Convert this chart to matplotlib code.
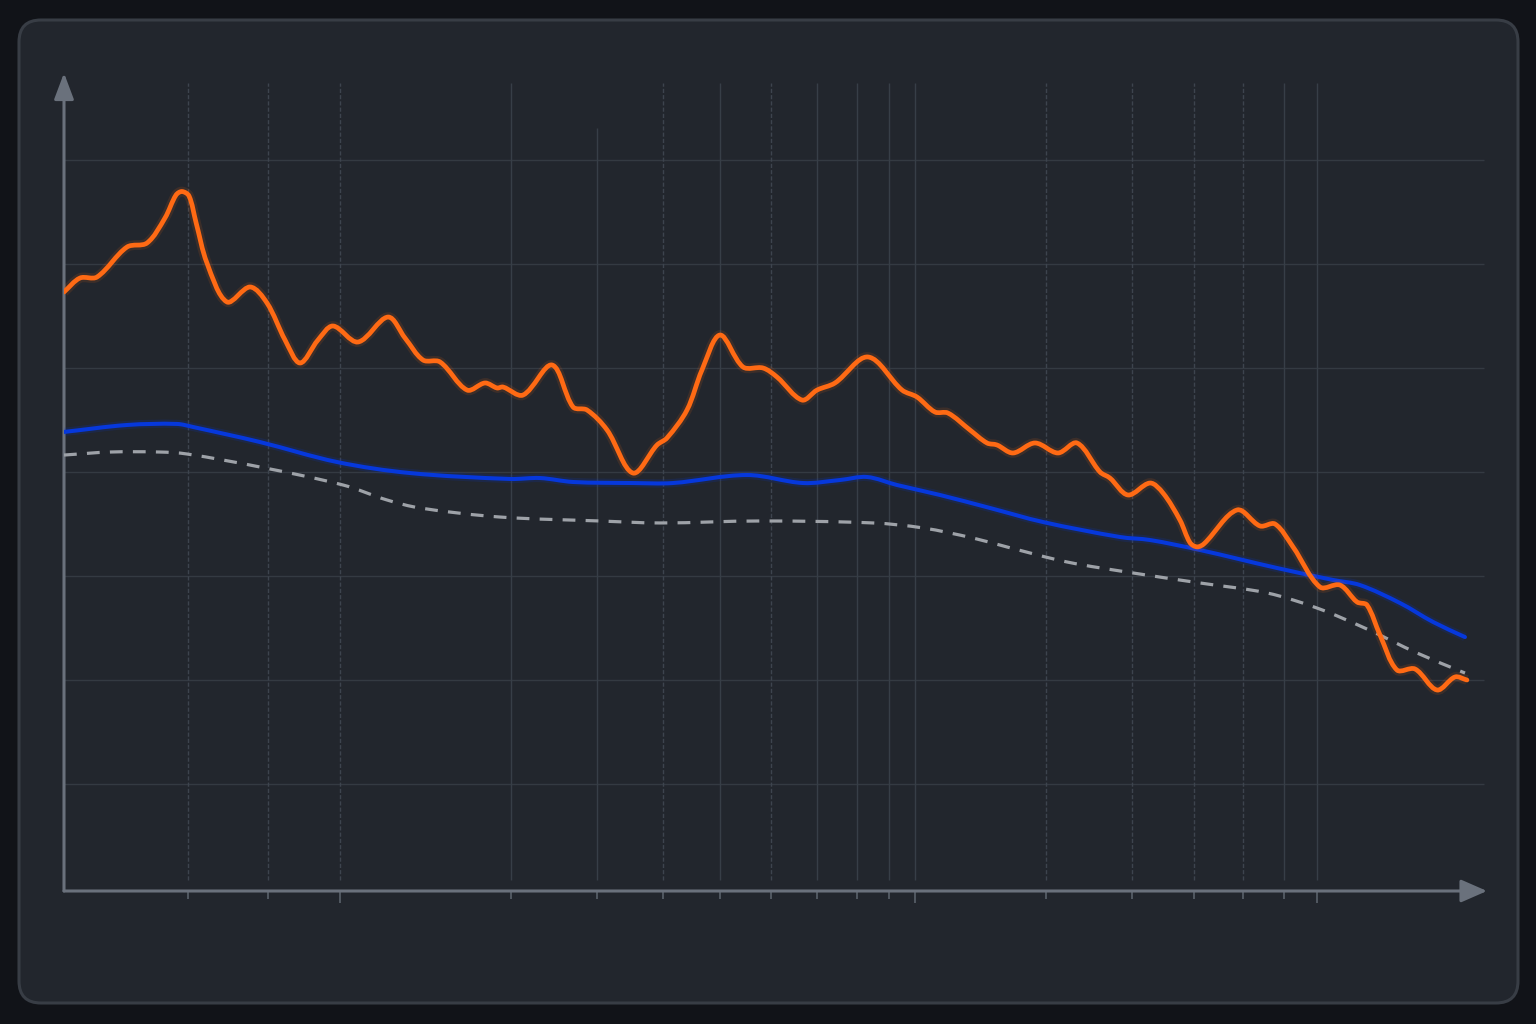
import numpy as np
import matplotlib
matplotlib.use("Agg")
import matplotlib.pyplot as plt
from matplotlib.patches import FancyBboxPatch, PathPatch
from matplotlib.path import Path

# ---------------- data ----------------
orange_x = [0.0, 1.14, 2.36, 4.5, 5.93, 7.21, 8.0, 8.43, 8.93, 9.43, 10.21, 11.64, 13.29, 14.5, 15.79,
            16.86, 18.14, 19.21, 21.0, 23.14, 24.36, 25.64, 26.86, 28.79, 30.07, 30.93, 31.36, 32.79,
            34.86, 36.36, 37.36, 38.79, 40.64, 42.36, 43.07, 44.5, 45.57, 46.86, 48.5, 49.93, 50.93,
            52.71, 53.79, 55.07, 57.43, 59.86, 60.93, 62.21, 63.14, 64.71, 65.93, 66.64, 67.79, 69.36,
            71.0, 72.36, 74.0, 74.71, 76.0, 77.57, 78.5, 79.71, 80.43, 80.93, 81.43, 83.79, 85.43,
            86.5, 87.79, 89.71, 91.14, 92.36, 93.07, 94.0, 95.21, 96.5, 98.07, 99.36, 100.21]
orange_y = [57.31, 58.65, 58.75, 61.63, 62.02, 64.42, 66.63, 66.97, 66.54, 64.0, 60.10, 56.35, 57.79,
            56.25, 52.69, 50.48, 52.69, 54.04, 52.5, 54.9, 52.88, 50.77, 50.58, 47.88, 48.56, 48.08,
            48.17, 47.40, 50.29, 46.25, 45.96, 44.04, 39.90, 42.60, 43.27, 45.96, 49.81, 53.17, 50.10,
            50.0, 49.13, 46.92, 47.88, 48.56, 51.06, 47.88, 47.21, 45.77, 45.67, 44.04, 42.79, 42.60,
            41.83, 42.79, 41.83, 42.79, 40.0, 39.42, 37.79, 38.94, 37.98, 35.38, 33.2, 32.8, 33.1,
            36.35, 34.81, 35.0, 32.79, 28.94, 29.13, 27.5, 27.21, 24.33, 20.96, 21.06, 19.04, 20.29,
            20.0]

blue_x = [0.0, 4.5, 8.07, 9.21, 14.0, 19.5, 24.71, 31.86, 34.0, 36.36, 40.64, 43.5, 48.79, 52.79,
          55.43, 57.36, 59.5, 62.57, 66.14, 69.93, 75.43, 77.57, 81.14, 86.64, 90.64, 92.57, 95.43,
          97.79, 100.07]
blue_y = [43.85, 44.52, 44.62, 44.33, 42.88, 40.96, 39.90, 39.33, 39.42, 39.04, 38.94, 38.94, 39.71,
          38.94, 39.23, 39.52, 38.75, 37.79, 36.54, 35.19, 33.75, 33.46, 32.5, 30.77, 29.62, 29.13,
          27.40, 25.58, 24.13]

gray_x = [0.0, 3.29, 6.86, 8.79, 14.0, 19.93, 23.07, 25.43, 31.14, 38.29, 42.57, 49.71, 57.79, 61.36,
          64.93, 67.36, 71.64, 76.36, 81.14, 85.93, 89.5, 93.07, 96.64, 100.07]
gray_y = [41.63, 41.92, 41.92, 41.73, 40.48, 38.75, 37.31, 36.54, 35.67, 35.29, 35.10, 35.29, 35.10,
          34.62, 33.65, 32.79, 31.35, 30.29, 29.33, 28.37, 26.92, 24.90, 22.60, 20.67]

h_grid = [10, 20, 30, 40, 50, 60, 70]
v_grid = [8.86, 14.57, 19.71, 31.93, 38.07, 42.79, 46.86, 50.5, 53.79, 56.64, 58.93, 60.79,
          70.14, 76.29, 80.71, 84.21, 87.14, 89.5]
v_dashed = [True, True, True, False, False, True, False, True, False, False, False, False,
            True, True, True, True, False, False]

# ---------------- helpers ----------------
XS, YS = 14.0, 10.4   # pixels per data unit, for chord-length parameterisation


def smooth_path(xs, ys):
    """Chordal Catmull-Rom through the points, drawn as cubic Bezier path segments."""
    P = np.column_stack([xs, ys]).astype(float)
    n = len(P)
    Q = P * np.array([XS, YS])
    d = np.sqrt(np.sum(np.diff(Q, axis=0) ** 2, axis=1))
    d = np.maximum(d, 1e-6)
    t = np.concatenate([[0], np.cumsum(d)])
    M = np.zeros_like(P)
    for i in range(n):
        if i == 0:
            M[i] = (P[1] - P[0]) / (t[1] - t[0])
        elif i == n - 1:
            M[i] = (P[-1] - P[-2]) / (t[-1] - t[-2])
        else:
            M[i] = (P[i + 1] - P[i - 1]) / (t[i + 1] - t[i - 1])
    verts = [P[0]]
    codes = [Path.MOVETO]
    for i in range(n - 1):
        h = t[i + 1] - t[i]
        verts += [P[i] + M[i] * h / 3.0, P[i + 1] - M[i + 1] * h / 3.0, P[i + 1]]
        codes += [Path.CURVE4] * 3
    return Path(np.array(verts), codes)


W, H = 1536, 1024
fig = plt.figure(figsize=(W / 100, H / 100), dpi=100)
fig.patch.set_facecolor("#111318")

# background card (pixel coordinates)
bg = fig.add_axes([0, 0, 1, 1])
bg.set_xlim(0, W)
bg.set_ylim(H, 0)
bg.axis("off")
card = FancyBboxPatch((19 + 22, 20 + 22), 1499 - 44, 983 - 44,
                      boxstyle="round,pad=22,rounding_size=22",
                      facecolor="#22262d", edgecolor="#383d45", linewidth=2.2)
bg.add_patch(card)

# main axes: px 64..1487 horizontally, 73..891 vertically
x0, x1, y0, y1 = 64, 1487, 73, 891
ax = fig.add_axes([x0 / W, 1 - y1 / H, (x1 - x0) / W, (y1 - y0) / H])
ax.set_facecolor("none")
ax.set_xlim(0, (x1 - x0) / XS)
ax.set_ylim((888 - y1) / YS, (888 - y0) / YS)
for s in ax.spines.values():
    s.set_visible(False)
ax.set_xticks([])
ax.set_yticks([])

# grid
ax.hlines(h_grid, 0, 101.4, colors="#343a42", linewidth=1.0, zorder=1)
for xv, dashed in zip(v_grid, v_dashed):
    top = 73.1 if abs(xv - 38.07) < 0.01 else 77.4
    ax.vlines(xv, 0.8, top, colors="#3d444e" if dashed else "#373e47",
              linewidth=1.0, linestyles=(0, (3, 1.5)) if dashed else "solid", zorder=1)
    ax.vlines(xv, -1.45 if xv in (19.71, 60.79, 89.5) else -1.1, -0.3,
              colors="#5a616b", linewidth=1.2, clip_on=False, zorder=1)

# axes with arrows
axis_col = "#6a717c"
ax.annotate("", xy=(1, 0), xytext=(0, 0), xycoords="axes fraction",
            arrowprops=dict(arrowstyle="-|>,head_length=1.6,head_width=0.7", color=axis_col,
                            lw=2.2, shrinkA=0, shrinkB=0, mutation_scale=10), zorder=3)
ax.annotate("", xy=(0, 1), xytext=(0, 0), xycoords="axes fraction",
            arrowprops=dict(arrowstyle="-|>,head_length=1.6,head_width=0.6", color=axis_col,
                            lw=2.2, shrinkA=0, shrinkB=0, mutation_scale=10), zorder=3)

# series
ax.add_patch(PathPatch(smooth_path(gray_x, gray_y), fill=False, edgecolor="#9ea2a8",
                       linewidth=2.3, linestyle=(0, (4, 3.2)), capstyle="butt", zorder=4))
ax.add_patch(PathPatch(smooth_path(blue_x, blue_y), fill=False, edgecolor="#0638dc",
                       linewidth=6, alpha=0.15, zorder=5))
ax.add_patch(PathPatch(smooth_path(blue_x, blue_y), fill=False, edgecolor="#0638dc",
                       linewidth=2.9, capstyle="round", zorder=5))
ax.add_patch(PathPatch(smooth_path(orange_x, orange_y), fill=False, edgecolor="#ff6a14",
                       linewidth=7, alpha=0.12, zorder=6))
ax.add_patch(PathPatch(smooth_path(orange_x, orange_y), fill=False, edgecolor="#ff6a14",
                       linewidth=3.4, capstyle="round", joinstyle="round", zorder=6))

fig.savefig("out.png", dpi=100, facecolor=fig.get_facecolor())
